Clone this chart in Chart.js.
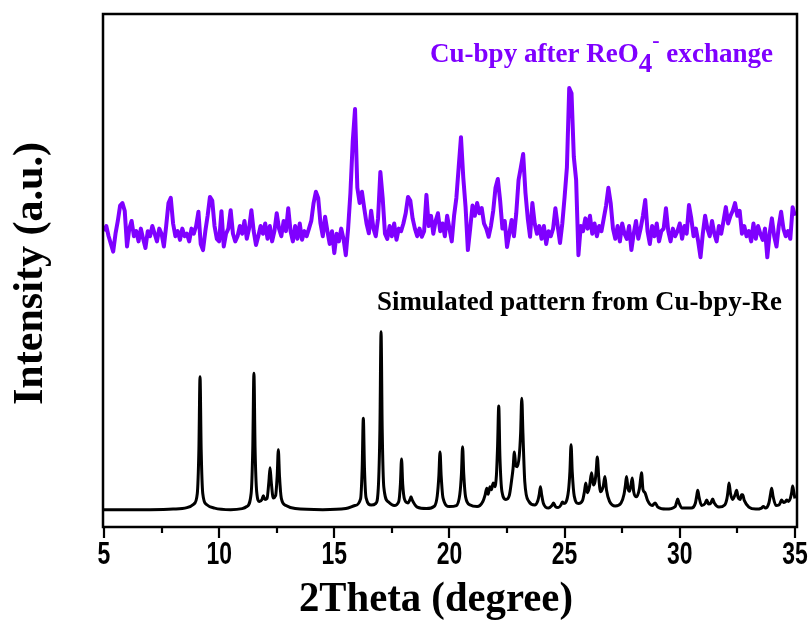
<!DOCTYPE html>
<html>
<head>
<meta charset="utf-8">
<script src="https://cdn.jsdelivr.net/npm/chart.js@4.4.1/dist/chart.umd.min.js"></script>
<style>
  body { margin: 0; background: #fff; }
  #wrap { width: 812px; height: 626px; position: relative; }
</style>
</head>
<body>
<div id="wrap"><canvas id="xrd"></canvas></div>
<script>
// measured pattern, sampled every 0.1 degree from 5.0 to 35.0
const thetaStart = 5.0;
const thetaStep = 0.1;
const exchangedIntensity = [
  57.5, 58.5, 56.5, 55.0, 53.5, 57.0, 59.5, 62.5, 63.0, 61.5,
  54.5, 58.0, 59.5, 56.5, 57.5, 55.5, 58.0, 56.0, 54.2, 57.5,
  56.5, 58.5, 57.0, 55.5, 58.0, 57.0, 54.5, 58.5, 63.0, 64.0,
  59.0, 56.5, 57.5, 55.8, 58.0, 56.5, 57.0, 55.5, 58.0, 57.0,
  58.5, 61.3, 55.0, 53.8, 57.5, 60.5, 64.2, 63.5, 58.5, 56.0,
  55.5, 61.4, 54.5, 57.0, 58.0, 61.6, 57.0, 55.5, 56.5, 58.5,
  57.0, 59.5, 56.0, 58.0, 61.6, 57.5, 54.8, 56.5, 58.5, 57.0,
  59.0, 56.0, 58.5, 55.5, 57.5, 61.0, 58.0, 56.5, 59.5, 57.5,
  62.0, 57.5, 55.5, 58.5, 56.0, 59.0, 55.8, 57.5, 56.5, 58.0,
  59.5, 63.0, 65.2, 64.0, 59.0, 56.5, 60.3, 57.5, 55.0, 57.5,
  53.2, 57.0, 55.5, 58.0, 56.0, 52.8, 58.0, 65.0, 75.0, 81.4,
  66.0, 63.0, 65.2, 62.0, 59.0, 57.1, 61.5, 58.0, 56.5, 60.0,
  69.1, 64.0, 57.0, 56.0, 58.5, 56.5, 59.0, 55.8, 58.0, 57.5,
  59.0, 61.0, 64.2, 63.5, 60.0, 58.0, 56.5, 58.0, 56.4, 57.5,
  64.6, 58.5, 60.5, 57.0, 59.5, 61.0, 57.5, 59.0, 56.5, 60.5,
  58.0, 55.5, 60.5, 64.0, 70.0, 75.9, 68.0, 62.2, 53.8, 58.0,
  62.5, 60.5, 63.0, 61.0, 62.0, 59.0, 58.0, 56.4, 58.5, 61.5,
  66.0, 67.7, 63.5, 58.0, 59.5, 54.4, 57.0, 59.7, 56.5, 61.0,
  67.5, 70.0, 72.6, 65.0, 60.0, 56.4, 63.0, 59.0, 57.0, 58.5,
  56.0, 58.5, 55.0, 57.5, 56.5, 58.0, 62.0, 58.5, 55.2, 59.0,
  64.2, 70.0, 85.5, 84.5, 72.0, 67.5, 52.8, 58.5, 57.5, 60.0,
  58.0, 60.5, 57.0, 59.0, 56.5, 58.5, 57.5, 60.0, 62.5, 66.0,
  63.0, 58.0, 56.0, 58.5, 55.5, 59.0, 57.0, 56.0, 58.5, 53.8,
  57.0, 59.5, 56.0, 58.0, 60.5, 63.6, 57.5, 55.0, 58.5, 56.5,
  59.0, 55.5, 57.5, 58.0, 62.0, 57.5, 55.5, 58.0, 56.5, 57.5,
  59.0, 56.0, 58.5, 57.0, 62.6, 60.0, 56.5, 58.0, 55.5, 52.4,
  57.0, 60.5, 58.0, 56.5, 59.5, 57.0, 55.5, 58.5, 57.0, 59.5,
  62.2, 59.0, 60.5, 61.5, 63.0, 60.5, 61.5, 57.0, 58.5, 56.5,
  57.5, 55.5, 59.0, 56.0, 58.5, 57.0, 55.8, 58.0, 52.4, 57.0,
  60.0, 56.5, 54.5, 58.5, 61.3, 58.0, 56.5, 57.5, 56.0, 62.2,
  60.5
];

// simulated pattern [2theta, intensity]
const simulatedPoints = [
  [5.0, 3.0], [7.0, 3.0], [8.0, 3.1], [8.6, 3.4], [8.9, 4.1], [9.05, 6.1], [9.12, 14.7], [9.17, 29.0],
  [9.22, 14.7], [9.29, 6.1], [9.45, 4.0], [9.8, 3.3], [10.5, 3.0], [11.0, 3.2], [11.2, 3.6], [11.39, 6.2],
  [11.46, 15.0], [11.51, 29.7], [11.56, 15.0], [11.63, 6.5], [11.75, 4.6], [11.86, 5.0], [11.92, 5.7],
  [11.99, 5.0], [12.08, 5.2], [12.16, 8.5], [12.21, 11.2], [12.26, 8.5], [12.35, 5.3], [12.45, 5.7],
  [12.52, 9.6], [12.57, 14.7], [12.62, 9.6], [12.7, 5.2], [12.9, 3.8], [13.3, 3.2], [14.5, 3.0],
  [15.5, 3.2], [15.9, 3.8], [16.14, 5.1], [16.21, 11.1], [16.26, 20.9], [16.31, 11.1], [16.38, 5.3],
  [16.6, 3.9], [16.8, 4.2], [16.91, 7.2], [16.98, 18.7], [17.03, 37.8], [17.08, 18.7], [17.15, 7.4],
  [17.35, 4.5], [17.6, 3.8], [17.8, 4.6], [17.87, 8.0], [17.92, 12.9], [17.97, 8.0], [18.05, 5.0],
  [18.2, 4.3], [18.28, 4.9], [18.33, 5.5], [18.38, 4.9], [18.6, 3.5], [19.0, 3.2], [19.35, 3.7],
  [19.47, 5.7], [19.54, 9.6], [19.59, 14.3], [19.64, 9.6], [19.72, 5.3], [20.0, 3.6], [20.3, 3.8],
  [20.45, 6.0], [20.52, 10.0], [20.57, 15.3], [20.62, 10.0], [20.7, 5.5], [20.9, 3.9], [21.2, 3.6],
  [21.45, 4.6], [21.55, 5.9], [21.62, 7.2], [21.68, 6.0], [21.76, 7.5], [21.82, 6.9], [21.9, 8.2],
  [21.97, 7.5], [22.04, 9.8], [22.09, 15.5], [22.14, 23.3], [22.19, 13.5], [22.28, 6.5], [22.45, 5.0],
  [22.6, 5.8], [22.7, 8.8], [22.76, 11.0], [22.82, 14.3], [22.88, 11.6], [22.95, 11.4], [23.03, 13.5],
  [23.09, 18.0], [23.14, 24.8], [23.19, 18.0], [23.27, 8.5], [23.45, 4.6], [23.7, 3.9], [23.84, 4.8],
  [23.9, 6.0], [23.95, 7.5], [24.0, 6.0], [24.08, 4.2], [24.3, 3.3], [24.45, 3.8], [24.52, 4.3],
  [24.6, 3.6], [24.72, 3.4], [24.84, 3.9], [24.9, 4.5], [24.97, 4.2], [25.05, 4.4], [25.17, 6.8],
  [25.23, 10.5], [25.28, 15.7], [25.33, 10.5], [25.42, 5.6], [25.6, 4.2], [25.78, 4.8], [25.86, 6.5],
  [25.92, 8.2], [25.99, 6.3], [26.08, 7.5], [26.17, 10.2], [26.25, 7.8], [26.32, 8.5], [26.37, 10.5],
  [26.42, 13.3], [26.48, 9.5], [26.56, 6.5], [26.68, 7.6], [26.75, 9.5], [26.82, 6.8], [26.95, 4.6],
  [27.2, 3.7], [27.45, 4.3], [27.58, 6.0], [27.64, 7.8], [27.69, 9.5], [27.75, 7.2], [27.82, 6.6],
  [27.88, 7.8], [27.94, 9.2], [28.0, 6.5], [28.12, 5.5], [28.25, 7.2], [28.3, 9.0], [28.34, 10.2],
  [28.4, 7.0], [28.49, 6.3], [28.6, 4.8], [28.8, 3.8], [28.93, 4.3], [29.05, 3.5], [29.4, 3.1],
  [29.8, 3.6], [29.86, 4.4], [29.91, 5.1], [29.96, 4.4], [30.1, 3.3], [30.5, 3.3], [30.68, 4.3],
  [30.74, 5.8], [30.78, 6.8], [30.83, 5.6], [30.95, 3.8], [31.1, 4.2], [31.17, 4.9], [31.25, 4.1],
  [31.35, 4.3], [31.43, 5.1], [31.5, 4.3], [31.7, 3.5], [31.95, 3.9], [32.05, 5.2], [32.1, 6.8],
  [32.14, 8.2], [32.2, 6.2], [32.3, 5.0], [32.4, 5.9], [32.47, 6.8], [32.53, 5.4], [32.62, 5.0],
  [32.68, 5.9], [32.73, 5.9], [32.8, 4.8], [33.0, 3.5], [33.3, 3.1], [33.55, 3.3], [33.63, 3.6],
  [33.72, 3.3], [33.87, 4.3], [33.94, 6.0], [33.99, 7.2], [34.05, 5.6], [34.18, 3.8], [34.3, 3.9],
  [34.38, 4.5], [34.42, 4.9], [34.5, 4.4], [34.58, 4.5], [34.64, 4.9], [34.72, 4.6], [34.8, 5.2],
  [34.86, 6.4], [34.9, 7.6], [34.95, 6.5], [35.0, 5.2]
];

const majorTicks = [5, 10, 15, 20, 25, 30, 35];
const minorTicks = [7.5, 12.5, 17.5, 22.5, 27.5, 32.5];

const exchangedData = exchangedIntensity.map((y, i) => ({ x: +(thetaStart + i * thetaStep).toFixed(1), y: y }));
const simulatedData = simulatedPoints.map(p => ({ x: p[0], y: p[1] }));

function fitText(ctx, text, x, y, width) {
  const w = ctx.measureText(text).width;
  ctx.save();
  ctx.translate(x, y);
  ctx.scale(width / w, 1);
  ctx.fillText(text, 0, 0);
  ctx.restore();
}

const decor = {
  id: 'decor',
  afterDraw(chart) {
    const ctx = chart.ctx;
    const a = chart.chartArea;
    const xs = chart.scales.x;
    ctx.save();
    // frame
    ctx.strokeStyle = '#000';
    ctx.lineWidth = 2.5;
    ctx.strokeRect(a.left, a.top, a.right - a.left, a.bottom - a.top);
    // ticks
    ctx.lineWidth = 2.2;
    ctx.beginPath();
    majorTicks.forEach(v => {
      const px = Math.round(xs.getPixelForValue(v));
      ctx.moveTo(px, a.bottom); ctx.lineTo(px, a.bottom + 11);
    });
    minorTicks.forEach(v => {
      const px = Math.round(xs.getPixelForValue(v));
      ctx.moveTo(px, a.bottom); ctx.lineTo(px, a.bottom + 6);
    });
    ctx.stroke();
    // tick labels
    ctx.fillStyle = '#000';
    ctx.font = 'bold 31px "Liberation Sans", Arial, sans-serif';
    ctx.textAlign = 'center';
    ctx.textBaseline = 'alphabetic';
    majorTicks.forEach(v => {
      const px = xs.getPixelForValue(v);
      ctx.save();
      ctx.translate(px, 564);
      ctx.scale(0.74, 1);
      ctx.fillText(String(v), 0, 0);
      ctx.restore();
    });
    // axis titles
    ctx.textAlign = 'left';
    ctx.font = 'bold 42px "Liberation Serif", "Times New Roman", serif';
    fitText(ctx, '2Theta (degree)', 299, 611, 274);
    ctx.save();
    ctx.translate(42, 405);
    ctx.rotate(-Math.PI / 2);
    fitText(ctx, 'Intensity (a.u.)', 0, 0, 263);
    ctx.restore();
    // simulated label
    ctx.font = 'bold 27px "Liberation Serif", "Times New Roman", serif';
    fitText(ctx, 'Simulated pattern from Cu-bpy-Re', 377, 310, 405);
    // exchanged label with ReO4- formula
    ctx.fillStyle = '#7f00ff';
    const parts = [
      ['Cu-bpy after ReO', 27, 0],
      ['4', 27, 10],
      ['-', 22, -15],
      [' exchange', 27, 0]
    ];
    let total = 0;
    parts.forEach(p => {
      ctx.font = 'bold ' + p[1] + 'px "Liberation Serif", "Times New Roman", serif';
      total += ctx.measureText(p[0]).width;
    });
    const k = 343 / total;
    let cx = 430;
    parts.forEach(p => {
      ctx.font = 'bold ' + p[1] + 'px "Liberation Serif", "Times New Roman", serif';
      const w = ctx.measureText(p[0]).width;
      ctx.save();
      ctx.translate(cx, 62 + p[2]);
      ctx.scale(k, 1);
      ctx.fillText(p[0], 0, 0);
      ctx.restore();
      cx += w * k;
    });
    ctx.restore();
  }
};

new Chart(document.getElementById('xrd'), {
  type: 'line',
  data: {
    datasets: [
      {
        label: 'Cu-bpy after ReO4- exchange',
        data: exchangedData,
        borderColor: '#7f00ff',
        borderWidth: 4,
        borderJoinStyle: 'round',
        pointRadius: 0,
        tension: 0
      },
      {
        label: 'Simulated pattern from Cu-bpy-Re',
        data: simulatedData,
        borderColor: '#000',
        borderWidth: 3,
        pointRadius: 0,
        cubicInterpolationMode: 'monotone'
      }
    ]
  },
  options: {
    responsive: true,
    maintainAspectRatio: false,
    animation: false,
    layout: { padding: { left: 103, right: 15, top: 14, bottom: 99 } },
    plugins: { legend: { display: false }, tooltip: { enabled: false } },
    scales: {
      x: { type: 'linear', display: false, min: 4.957, max: 35.09 },
      y: { display: false, min: -0.4, max: 100 }
    }
  },
  plugins: [decor]
});
</script>
</body>
</html>
